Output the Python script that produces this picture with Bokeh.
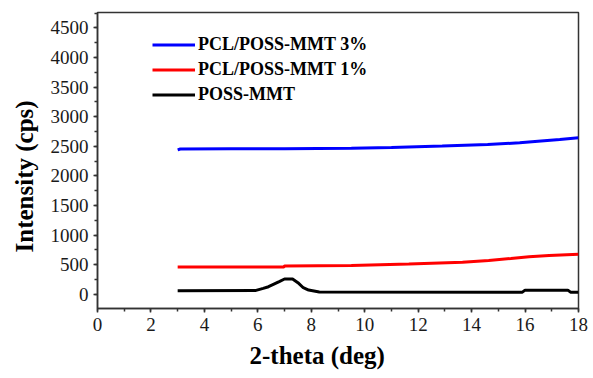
from bokeh.plotting import figure
from bokeh.models import Range1d, SingleIntervalTicker, Legend, LegendItem, Title
from bokeh.embed import file_html
from bokeh.resources import INLINE

# Data
x_3pct = [3.0, 3.1, 5.0, 7.0, 9.5, 11.0, 12.9, 14.6, 15.8, 16.6, 17.3, 18.0]
y_3pct = [2440, 2455, 2458, 2460, 2465, 2480, 2505, 2530, 2560, 2590, 2615, 2645]

x_1pct = [3.0, 6.97, 7.0, 9.5, 11.65, 13.66, 14.64, 15.47, 16.15, 16.9, 18.0]
y_1pct = [460, 460, 478, 488, 510, 540, 572, 605, 633, 656, 675]

x_mmt = [3.0, 5.9, 6.2, 6.4, 6.8, 7.0, 7.3, 7.5, 7.7, 7.9, 8.3, 15.9, 16.0, 17.6, 17.7, 18.0]
y_mmt = [60, 62, 100, 128, 213, 258, 258, 196, 111, 72, 39, 36, 70, 70, 36, 36]

series_labels = ["PCL/POSS-MMT 3%", "PCL/POSS-MMT 1%", "POSS-MMT"]
series_colors = ["#0000ff", "#ff0000", "#000000"]

x_title = "2-theta (deg)"
y_title = "Intensity (cps)"

SERIF = "Liberation Serif"

p = figure(width=593, height=378, output_backend="svg", toolbar_location=None,
           x_range=Range1d(0, 18), y_range=Range1d(-240, 4760),
           min_border_left=97, min_border_right=15, min_border_top=12, min_border_bottom=70)
p.grid.visible = False
p.background_fill_color = "white"
p.border_fill_color = "white"
p.outline_line_color = "#333333"
p.outline_line_width = 1.5

p.xaxis.ticker = SingleIntervalTicker(interval=2, num_minor_ticks=2)
p.yaxis.ticker = SingleIntervalTicker(interval=500, num_minor_ticks=2)
for ax in (p.xaxis, p.yaxis):
    ax.axis_line_color = "#333333"
    ax.axis_line_width = 1.5
    ax.major_tick_line_color = "#333333"
    ax.minor_tick_line_color = "#333333"
    ax.major_tick_line_width = 1.5
    ax.minor_tick_line_width = 1.5
    ax.major_tick_out = 4
    ax.major_tick_in = 0
    ax.minor_tick_out = 3
    ax.minor_tick_in = 0
    ax.major_label_text_font = SERIF
    ax.major_label_text_font_size = "19px"
    ax.major_label_text_color = "#1a1a1a"
    ax.major_label_standoff = 5
p.yaxis.major_label_orientation = "horizontal"

r3 = p.line(x_3pct, y_3pct, line_color=series_colors[0], line_width=3)
r1 = p.line(x_1pct, y_1pct, line_color=series_colors[1], line_width=3)
r0 = p.line(x_mmt, y_mmt, line_color=series_colors[2], line_width=3)

legend = Legend(items=[LegendItem(label=series_labels[0], renderers=[r3]),
                       LegendItem(label=series_labels[1], renderers=[r1]),
                       LegendItem(label=series_labels[2], renderers=[r0])],
                location=(55, 201), margin=0, padding=0, spacing=0,
                glyph_width=43, glyph_height=25, label_height=25, label_standoff=3,
                border_line_color=None, background_fill_alpha=0,
                label_text_font=SERIF, label_text_font_style="bold",
                label_text_font_size="18px", label_text_color="black")
p.add_layout(legend, "center")

xt = Title(text=x_title, align="left", offset=152, vertical_align="top", standoff=16,
           text_font=SERIF, text_font_style="bold", text_font_size="25px", text_color="black")
yt = Title(text=y_title, align="left", offset=56, vertical_align="top", standoff=16,
           text_font=SERIF, text_font_style="bold", text_font_size="25px", text_color="black")
p.add_layout(xt, "below")
p.add_layout(yt, "left")

open("out.html", "w").write(file_html(p, INLINE))
